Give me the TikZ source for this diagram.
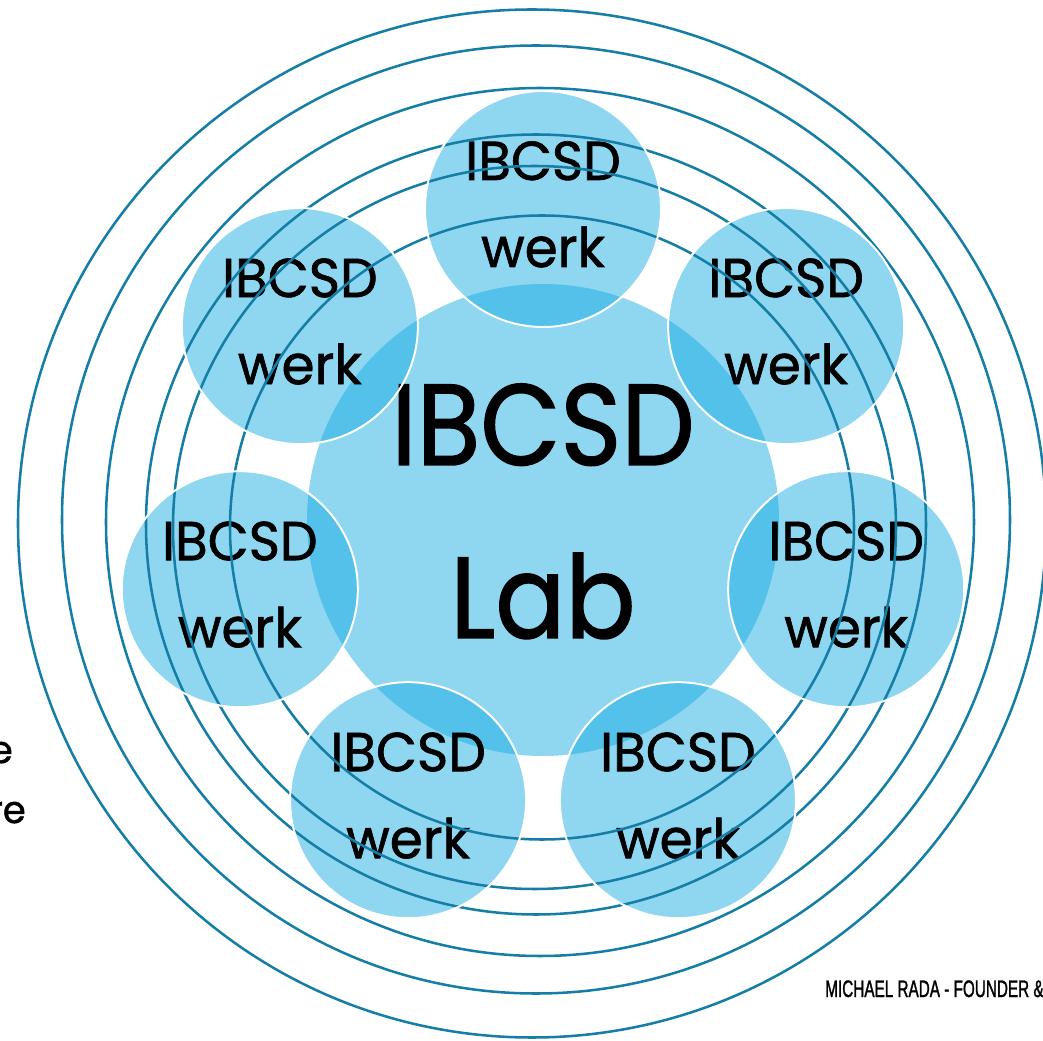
\documentclass[tikz,border=0pt]{standalone}
\usepackage{fontspec}
\newfontfamily\geofont[FakeStretch=0.9,FakeBold=1.2]{Poppins}
\newfontfamily\geosmall[FakeStretch=0.97,FakeBold=1.2]{Poppins}
\newfontfamily\condfont[FakeStretch=0.64,FakeBold=1.2]{Liberation Sans}
\usetikzlibrary{positioning}
\definecolor{ringblue}{RGB}{21,126,166}
\definecolor{cellblue}{RGB}{20,170,226}

\begin{document}
\begin{tikzpicture}[x=0.25mm, y=0.25mm,
    cell/.style = {circle, fill=cellblue, fill opacity=0.48, minimum size=59mm, inner sep=0pt},
    ring/.style = {ringblue, line width=1.8pt},
    rim/.style = {white, line width=1.4pt},
    werk/.style = {font=\geosmall\fontsize{39}{39}\selectfont, anchor=base, inner sep=0pt},
    lab/.style = {font=\geofont\fontsize{82}{82}\selectfont, anchor=base, inner sep=0pt}]

    \useasboundingbox (-543,-521) rectangle (500,520);
    \clip (-543,-521) rectangle (500,520);

    \node [cell, minimum size=118mm] (core) at (0,0) {};
    \foreach \k in {0,...,6}
        \node [cell] (w\k) at ({90+\k*360/7}:311) {};

    \node [lab] (core1) at (0,55) {IBCSD};
    \node [lab] (core2) at (0,-118) {Lab};
    \foreach \k in {0,...,6} {
        \node [werk, yshift=7.25mm] (i\k) at ({90+\k*360/7}:311) {IBCSD};
        \node [werk, yshift=-14.5mm] (t\k) at ({90+\k*360/7}:311) {werk};
    }

    \foreach \dx / \dy / \r in {-1/-7.5/312, -8.5/-7.5/361.5, -7/-4.5/390, -3/-2/434, -7/0.5/474, -11/-3.5/514}
        \draw [ring] (\dx,\dy) circle [radius=\r*0.25mm];

    \foreach \k in {0,...,6}
        \draw [rim] (w\k.center) circle [radius=29.5mm];

    \node [font=\geosmall\fontsize{27}{27}\selectfont, anchor=base east, inner sep=0pt] (cut1) at (-530,-243) {e};
    \node [font=\geosmall\fontsize{27}{27}\selectfont, anchor=base east, inner sep=0pt] (cut2) at (-517,-303) {re};
    \node [font=\condfont\fontsize{17}{17}\selectfont, anchor=base west, inner sep=0pt] (credit) at (282,-477) {MICHAEL RADA - FOUNDER \&};

\end{tikzpicture}
\end{document}
